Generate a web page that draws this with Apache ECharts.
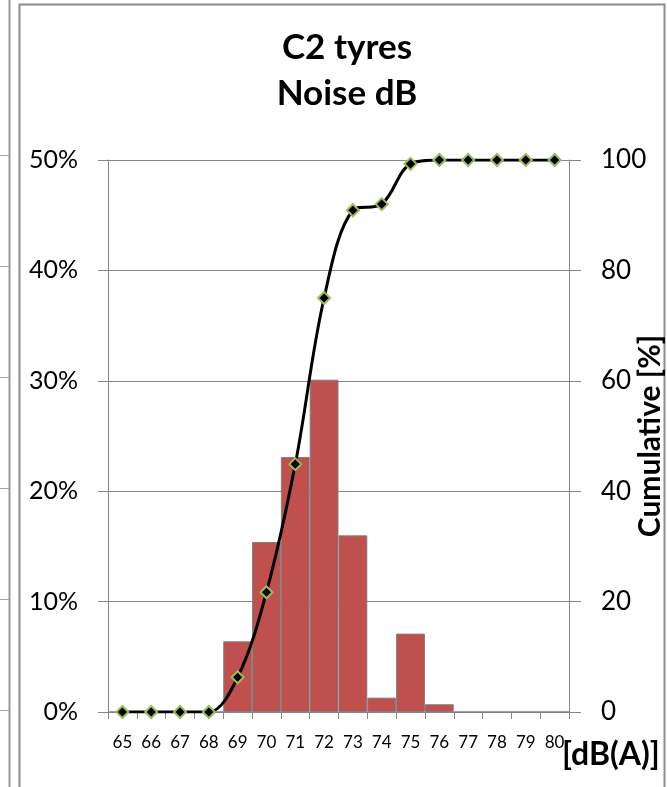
<!DOCTYPE html>
<html>
<head>
<meta charset="utf-8">
<script src="https://cdn.jsdelivr.net/npm/echarts@6/dist/echarts.min.js"></script>
<style>html,body{margin:0;padding:0;background:#fff}#c{width:667px;height:787px}</style>
</head>
<body>
<div id="c"></div>
<script>
const categories = ['65','66','67','68','69','70','71','72','73','74','75','76','77','78','79','80'];
const shareValues = [0,0,0,0,0.064,0.154,0.231,0.301,0.160,0.013,0.071,0.007,0,0,0,0];
const cumulativeValues = [0,0,0,0,6.3,21.7,44.9,75.0,90.9,92.0,99.3,100,100,100,100,100];
const leftTicks = [0,0.1,0.2,0.3,0.4,0.5];
const rightTicks = [0,20,40,60,80,100];

const FONT = 'Lato, "Open Sans", sans-serif';
const chart = echarts.init(document.getElementById('c'), null, {renderer:'canvas'});
const leftLines = [155,266,377,488,599,710].map(y => ({
  type:'line', silent:true, shape:{x1:0,y1:y+0.5,x2:9,y2:y+0.5}, style:{stroke:'#a6a6a6',lineWidth:1}
}));
chart.setOption({
  animation:false,
  backgroundColor:'#fff',
  title:{
    text:'C2 tyres\nNoise dB', left:342, top:20, textAlign:'center',
    textStyle:{fontFamily:FONT,fontWeight:'bold',fontSize:35,lineHeight:46,color:'#000'}
  },
  graphic:[
    {type:'line',silent:true,shape:{x1:9.5,y1:0,x2:9.5,y2:787},style:{stroke:'#9a9a9a',lineWidth:2}},
    {type:'polyline',silent:true,shape:{points:[[19.5,787],[19.5,4.5],[664.5,4.5],[664.5,787]]},style:{stroke:'#8c8c8c',lineWidth:2,fill:null}},
    ...leftLines,
    {type:'text',left:562,top:739,style:{text:'[dB(A)]',font:'bold 32px '+FONT,fill:'#000'}}
  ],
  grid:{left:108,right:98,top:160,bottom:75,containLabel:false,outerBoundsMode:'none'},
  xAxis:{
    type:'category', data:categories, boundaryGap:true,
    axisLine:{lineStyle:{color:'#868686',width:1}},
    axisTick:{show:true,length:7,lineStyle:{color:'#868686'}},
    axisLabel:{fontFamily:FONT,fontSize:17,color:'#000',margin:22,interval:0},
    splitLine:{show:false}
  },
  yAxis:[
    {
      type:'value', min:0, max:0.5, interval:0.1,
      axisLine:{show:true,lineStyle:{color:'#868686'}},
      axisTick:{show:true,length:10,lineStyle:{color:'#868686'}},
      axisLabel:{fontFamily:FONT,fontSize:25,color:'#000',margin:30,
        formatter:v => Math.round(v*100)+'%'},
      splitLine:{show:true,lineStyle:{color:'#868686',width:1}}
    },
    {
      type:'value', min:0, max:100, interval:20, position:'right',
      axisLine:{show:true,lineStyle:{color:'#868686'}},
      axisTick:{show:true,length:12,lineStyle:{color:'#868686'}},
      axisLabel:{fontFamily:FONT,fontSize:26,color:'#000',margin:32},
      splitLine:{show:false},
      name:'Cumulative [%]', nameLocation:'middle', nameGap:66, nameRotate:90, nameMoveOverlap:false,
      nameTextStyle:{fontFamily:FONT,fontWeight:'bold',fontSize:30,color:'#000'}
    }
  ],
  series:[
    {
      type:'bar', data:shareValues, yAxisIndex:0, barWidth:'100%', barCategoryGap:'0%',
      itemStyle:{color:'#C0504D',borderColor:'#7f7f7f',borderWidth:1}
    },
    {
      type:'line', data:cumulativeValues, yAxisIndex:1, smooth:0.35,
      lineStyle:{color:'#000',width:3},
      symbol:'diamond', symbolSize:12,
      itemStyle:{color:'#000',borderColor:'#9BBB59',borderWidth:2}
    }
  ]
});
</script>
</body>
</html>
